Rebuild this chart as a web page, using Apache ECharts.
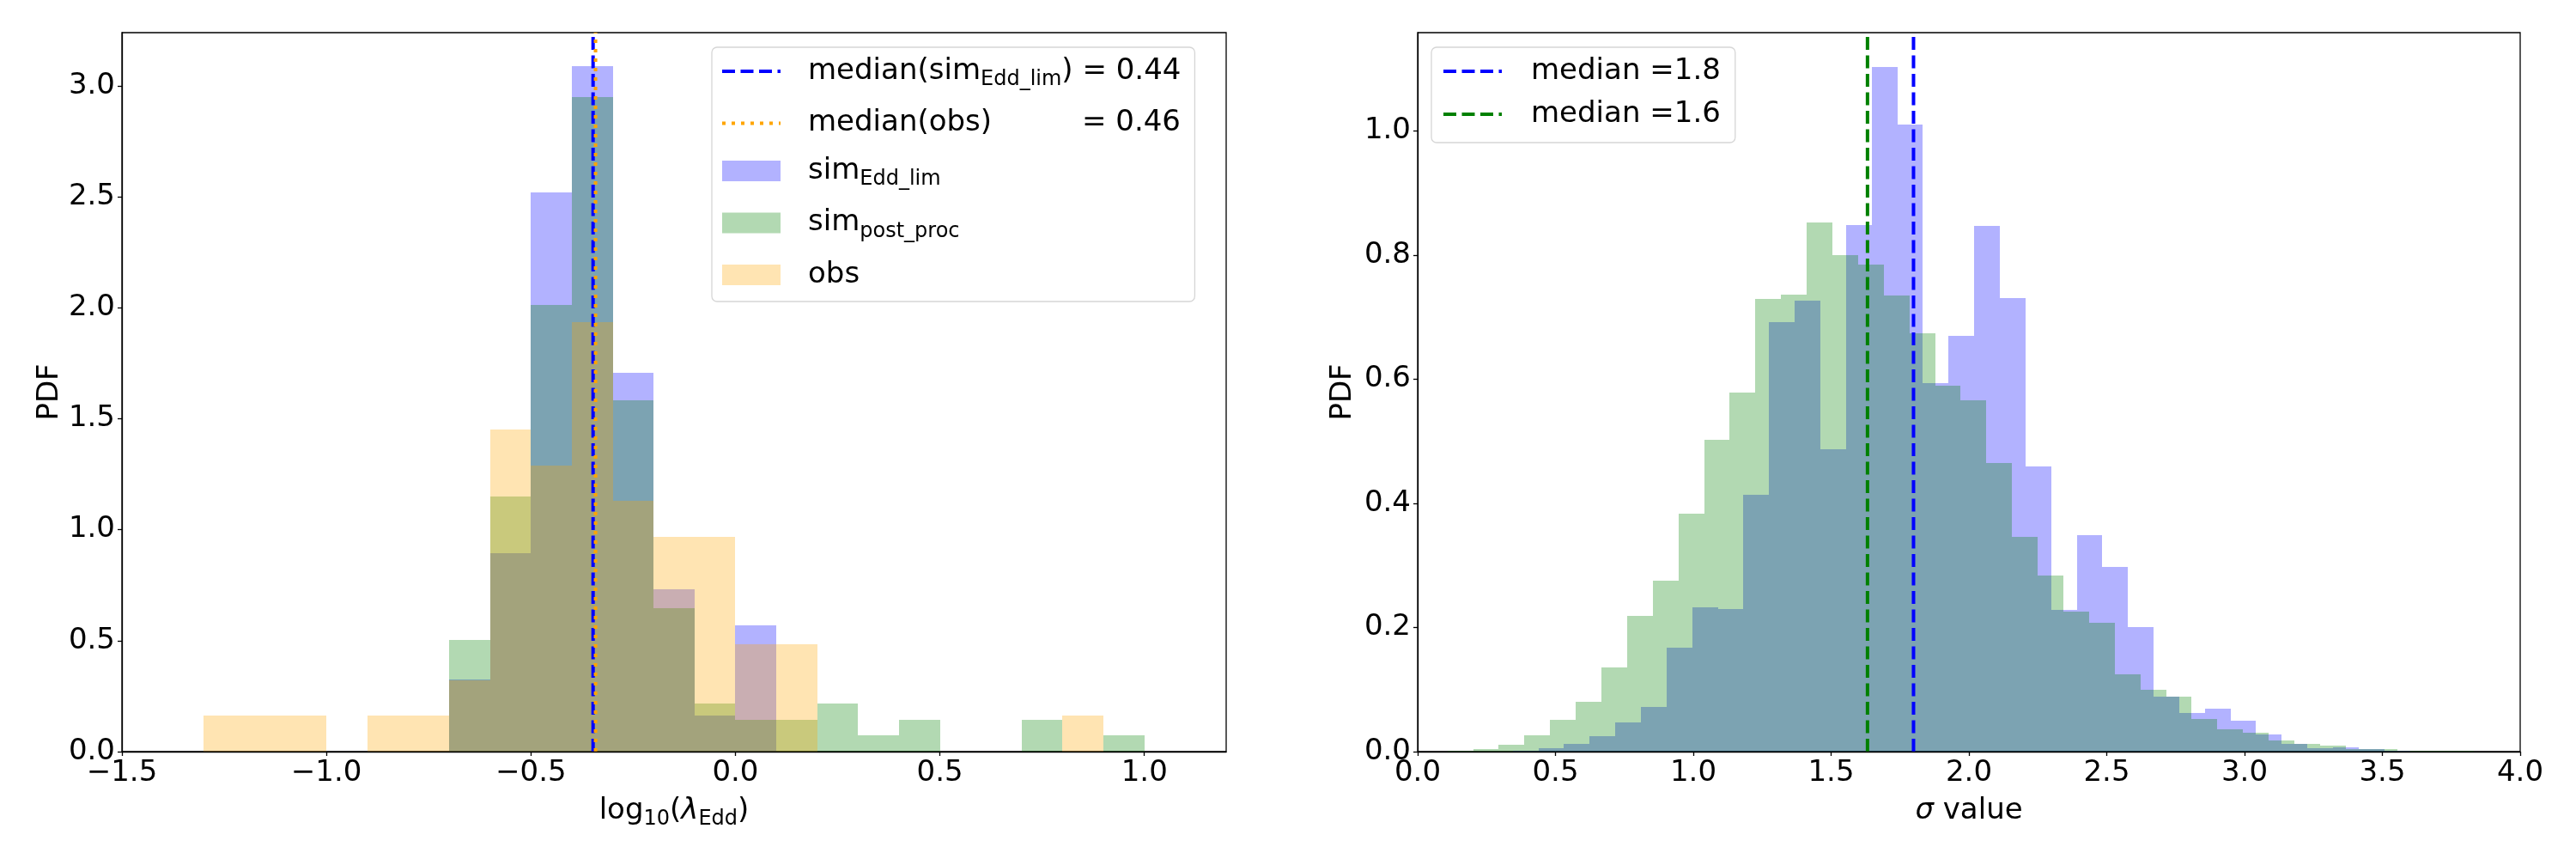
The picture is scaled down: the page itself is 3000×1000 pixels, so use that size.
<!DOCTYPE html>
<html>
<head>
<meta charset="utf-8">
<script src="https://cdn.jsdelivr.net/npm/echarts@6/dist/echarts.min.js"></script>
<style>
	html, body { margin: 0; padding: 0; background: #fff; }
	#chart { width: 3000px; height: 1000px; }
</style>
</head>
<body>
<div id="chart"></div>
<script>
// left panel: log10(lambda_Edd), bin edges and PDF heights
const lamEdges = [-1.3, -1.2, -1.1, -1.0, -0.9, -0.8, -0.7, -0.6, -0.5, -0.4, -0.3, -0.2,
	-0.1, 0.0, 0.1, 0.2, 0.3, 0.4, 0.5, 0.6, 0.7, 0.8, 0.9, 1.0];
const lamSim = [0, 0, 0, 0, 0, 0, 0.325, 0.894, 2.520, 3.089, 1.707, 0.732,
	0.163, 0.569, 0, 0, 0, 0, 0, 0, 0, 0, 0];
const lamPost = [0, 0, 0, 0, 0, 0, 0.504, 1.151, 2.014, 2.950, 1.583, 0.647,
	0.216, 0.144, 0.144, 0.216, 0.072, 0.144, 0, 0, 0.144, 0, 0.072];
const lamObs = [0.161, 0.161, 0.161, 0, 0.161, 0.161, 0.323, 1.452, 1.290, 1.935, 1.129, 0.968,
	0.968, 0.484, 0.484, 0, 0, 0, 0, 0, 0, 0.161, 0];
const lamMedSim = -0.348;
const lamMedObs = -0.342;

// right panel: sigma value
const sigSimEdges = [0.345, 0.438, 0.531, 0.624, 0.717, 0.810, 0.903, 0.996, 1.089, 1.182,
	1.275, 1.368, 1.461, 1.554, 1.647, 1.740, 1.833, 1.926, 2.019, 2.112, 2.205, 2.298,
	2.391, 2.484, 2.577, 2.670, 2.763, 2.856, 2.949, 3.042, 3.135, 3.228, 3.321, 3.414,
	3.507, 3.600];
const sigSim = [0.0014, 0.006, 0.013, 0.025, 0.047, 0.072, 0.167, 0.232, 0.229, 0.413,
	0.692, 0.726, 0.487, 0.848, 1.103, 1.010, 0.594, 0.670, 0.847, 0.731, 0.459, 0.228,
	0.349, 0.297, 0.201, 0.089, 0.062, 0.069, 0.050, 0.028, 0.012, 0.0055, 0.0069, 0.0041,
	0.0014];
const sigPostEdges = [0.108, 0.201, 0.294, 0.387, 0.480, 0.574, 0.667, 0.760, 0.853, 0.946,
	1.039, 1.132, 1.225, 1.318, 1.411, 1.505, 1.598, 1.691, 1.784, 1.877, 1.970, 2.063,
	2.156, 2.249, 2.342, 2.436, 2.529, 2.622, 2.715, 2.808, 2.901, 2.994, 3.087, 3.180,
	3.273, 3.367, 3.460, 3.553, 3.646, 3.739, 3.832];
const sigPost = [0.0014, 0.0046, 0.011, 0.026, 0.051, 0.080, 0.136, 0.218, 0.276, 0.383,
	0.502, 0.579, 0.729, 0.736, 0.852, 0.800, 0.785, 0.735, 0.674, 0.590, 0.566, 0.465,
	0.346, 0.284, 0.226, 0.208, 0.125, 0.099, 0.089, 0.053, 0.036, 0.030, 0.018, 0.012,
	0.0097, 0.0041, 0.0041, 0.0014, 0.0014, 0.0014];
const sigMedSim = 1.799;
const sigMedPost = 1.632;

// ticks
const lamTicks = [-1.5, -1.0, -0.5, 0.0, 0.5, 1.0];
const lamPdfTicks = [0, 0.5, 1.0, 1.5, 2.0, 2.5, 3.0];
const sigTicks = [0, 0.5, 1.0, 1.5, 2.0, 2.5, 3.0, 3.5, 4.0];
const sigPdfTicks = [0, 0.2, 0.4, 0.6, 0.8, 1.0];
const lamYMax = 3.24;
const sigYMax = 1.158;

const FONT = 'DejaVu Sans';
const BLUE_A = 'rgba(0,0,255,0.3)';
const GREEN_A = 'rgba(0,128,0,0.3)';
const ORANGE_A = 'rgba(255,165,0,0.3)';
const DASH_ICON = 'path://M0,0h15v4h-15z M21.5,0h15v4h-15z M43,0h15v4h-15z M64.5,0h3.5v4h-3.5z';
const DOT_ICON = 'path://M0,0h4v4h-4z M11,0h4v4h-4z M22,0h4v4h-4z M33,0h4v4h-4z M44,0h4v4h-4z M55,0h4v4h-4z M66,0h2v4h-2z';

function histData(edges, heights) {
	let out = [];
	heights.forEach((h, i) => {
		if (h > 0) out.push([edges[i], edges[i + 1], h]);
	});
	return out;
}

function drawBin(params, api) {
	let p0 = api.coord([api.value(0), 0]);
	let p1 = api.coord([api.value(1), api.value(2)]);
	let x0 = Math.round(p0[0]), x1 = Math.round(p1[0]);
	let yb = Math.round(p0[1]), yt = Math.round(p1[1]);
	return {
		type: 'rect',
		shape: { x: x0, y: yt, width: x1 - x0, height: yb - yt },
		style: { fill: api.visual('color') }
	};
}

function fmtTick(v) {
	return (v < 0 ? '\u2212' : '') + Math.abs(v).toFixed(1);
}

const nameRich = {
	t: { fontFamily: FONT, fontSize: 34, lineHeight: 44, color: '#000' },
	i: { fontFamily: FONT, fontSize: 34, lineHeight: 44, color: '#000', fontStyle: 'italic' },
	s: { fontFamily: FONT, fontSize: 24, padding: [20, 0, 0, 0], color: '#000' }
};

function valueAxis(grid, min, max, ticks, name, gap, rich) {
	return {
		gridIndex: grid,
		type: 'value',
		min: min,
		max: max,
		z: 5,
		axisLine: { show: true, onZero: false, lineStyle: { color: '#000', width: 1.3 } },
		axisTick: { show: true, length: 5, customValues: ticks, lineStyle: { color: '#000', width: 1.3 } },
		axisLabel: {
			customValues: ticks,
			formatter: fmtTick,
			fontFamily: FONT,
			fontSize: 34,
			color: '#000',
			margin: 8
		},
		splitLine: { show: false },
		name: name,
		nameLocation: 'middle',
		nameGap: gap,
		nameTextStyle: { fontFamily: FONT, fontSize: 34, color: '#000', rich: rich }
	};
}

function medianLine(name, x, ymax, axisIdx, color, dash) {
	return {
		name: name,
		type: 'line',
		xAxisIndex: axisIdx,
		yAxisIndex: axisIdx,
		data: [[x, 0], [x, ymax]],
		symbol: 'none',
		silent: true,
		color: color,
		lineStyle: { color: color, width: 4, type: dash }
	};
}

function histSeries(name, edges, heights, axisIdx, color) {
	return {
		name: name,
		type: 'custom',
		xAxisIndex: axisIdx,
		yAxisIndex: axisIdx,
		renderItem: drawBin,
		encode: { x: [0, 1], y: 2 },
		itemStyle: { color: color },
		silent: true,
		data: histData(edges, heights)
	};
}

const legendRich = {
	g: { width: 27, fontFamily: FONT, fontSize: 34, lineHeight: 44 },
	t: { fontFamily: FONT, fontSize: 34, lineHeight: 44, color: '#000' },
	w: { fontFamily: FONT, fontSize: 34, lineHeight: 44, color: '#000', width: 319 },
	s: { fontFamily: FONT, fontSize: 24, padding: [20, 0, 0, 0], color: '#000' }
};
const legendRichR = {
	g: { width: 29, fontFamily: FONT, fontSize: 34, lineHeight: 40 },
	t: { fontFamily: FONT, fontSize: 34, lineHeight: 40, color: '#000' }
};

const legendText = {
	medSim: '{g| }{t|median(sim}{s|Edd_lim}{t|) = 0.44}',
	medObs: '{g| }{w|median(obs)}{t|= 0.46}',
	sim: '{g| }{t|sim}{s|Edd_lim}',
	post: '{g| }{t|sim}{s|post_proc}',
	obs: '{g| }{t|obs}',
	medSimR: '{g| }{t|median =1.8}',
	medPostR: '{g| }{t|median =1.6}'
};

let myChart = echarts.init(document.getElementById('chart'), null, { renderer: 'canvas' });

let option = {
	animation: false,
	backgroundColor: '#fff',
	grid: [
		{ left: 142, top: 38, width: 1286, height: 837, show: true, borderColor: '#000', borderWidth: 1.3, containLabel: false },
		{ left: 1651, top: 38, width: 1284, height: 837, show: true, borderColor: '#000', borderWidth: 1.3, containLabel: false }
	],
	xAxis: [
		valueAxis(0, -1.5, 1.2, lamTicks, '{t|log}{s|10}{t|(}{i|\u03bb}{s|Edd}{t|)}', 47, nameRich),
		valueAxis(1, 0, 4, sigTicks, '{i|\u03c3}{t| value}', 47, nameRich)
	],
	yAxis: [
		valueAxis(0, 0, lamYMax, lamPdfTicks, 'PDF', 67, null),
		valueAxis(1, 0, sigYMax, sigPdfTicks, 'PDF', 70, null)
	],
	legend: [
		{
			orient: 'vertical',
			left: 829,
			top: 55,
			itemWidth: 68,
			itemHeight: 24,
			itemGap: 21.5,
			padding: [11, 16, 14, 12],
			backgroundColor: 'rgba(255,255,255,0.8)',
			borderColor: 'rgba(204,204,204,0.8)',
			borderWidth: 1.3,
			borderRadius: 6,
			selectedMode: false,
			formatter: (n) => legendText[n],
			textStyle: { rich: legendRich },
			data: [
				{ name: 'medSim', icon: DASH_ICON, itemStyle: { color: '#0000ff' } },
				{ name: 'medObs', icon: DOT_ICON, itemStyle: { color: '#ffa500' } },
				{ name: 'sim', icon: 'rect', itemStyle: { color: BLUE_A } },
				{ name: 'post', icon: 'rect', itemStyle: { color: GREEN_A } },
				{ name: 'obs', icon: 'rect', itemStyle: { color: ORANGE_A } }
			]
		},
		{
			orient: 'vertical',
			left: 1667,
			top: 55,
			itemWidth: 68,
			itemHeight: 24,
			itemGap: 16,
			padding: [11, 17, 16, 14],
			backgroundColor: 'rgba(255,255,255,0.8)',
			borderColor: 'rgba(204,204,204,0.8)',
			borderWidth: 1.3,
			borderRadius: 6,
			selectedMode: false,
			formatter: (n) => legendText[n],
			textStyle: { rich: legendRichR },
			data: [
				{ name: 'medSimR', icon: DASH_ICON, itemStyle: { color: '#0000ff' } },
				{ name: 'medPostR', icon: DASH_ICON, itemStyle: { color: '#008000' } }
			]
		}
	],
	series: [
		histSeries('sim', lamEdges, lamSim, 0, BLUE_A),
		histSeries('post', lamEdges, lamPost, 0, GREEN_A),
		histSeries('obs', lamEdges, lamObs, 0, ORANGE_A),
		medianLine('medSim', lamMedSim, lamYMax, 0, '#0000ff', [15, 6.5]),
		medianLine('medObs', lamMedObs, lamYMax, 0, '#ffa500', [4, 7]),
		histSeries('simR', sigSimEdges, sigSim, 1, BLUE_A),
		histSeries('postR', sigPostEdges, sigPost, 1, GREEN_A),
		medianLine('medSimR', sigMedSim, sigYMax, 1, '#0000ff', [15, 6.5]),
		medianLine('medPostR', sigMedPost, sigYMax, 1, '#008000', [15, 6.5])
	]
};
myChart.setOption(option);
window.onresize = myChart.resize;
</script>
</body>
</html>
